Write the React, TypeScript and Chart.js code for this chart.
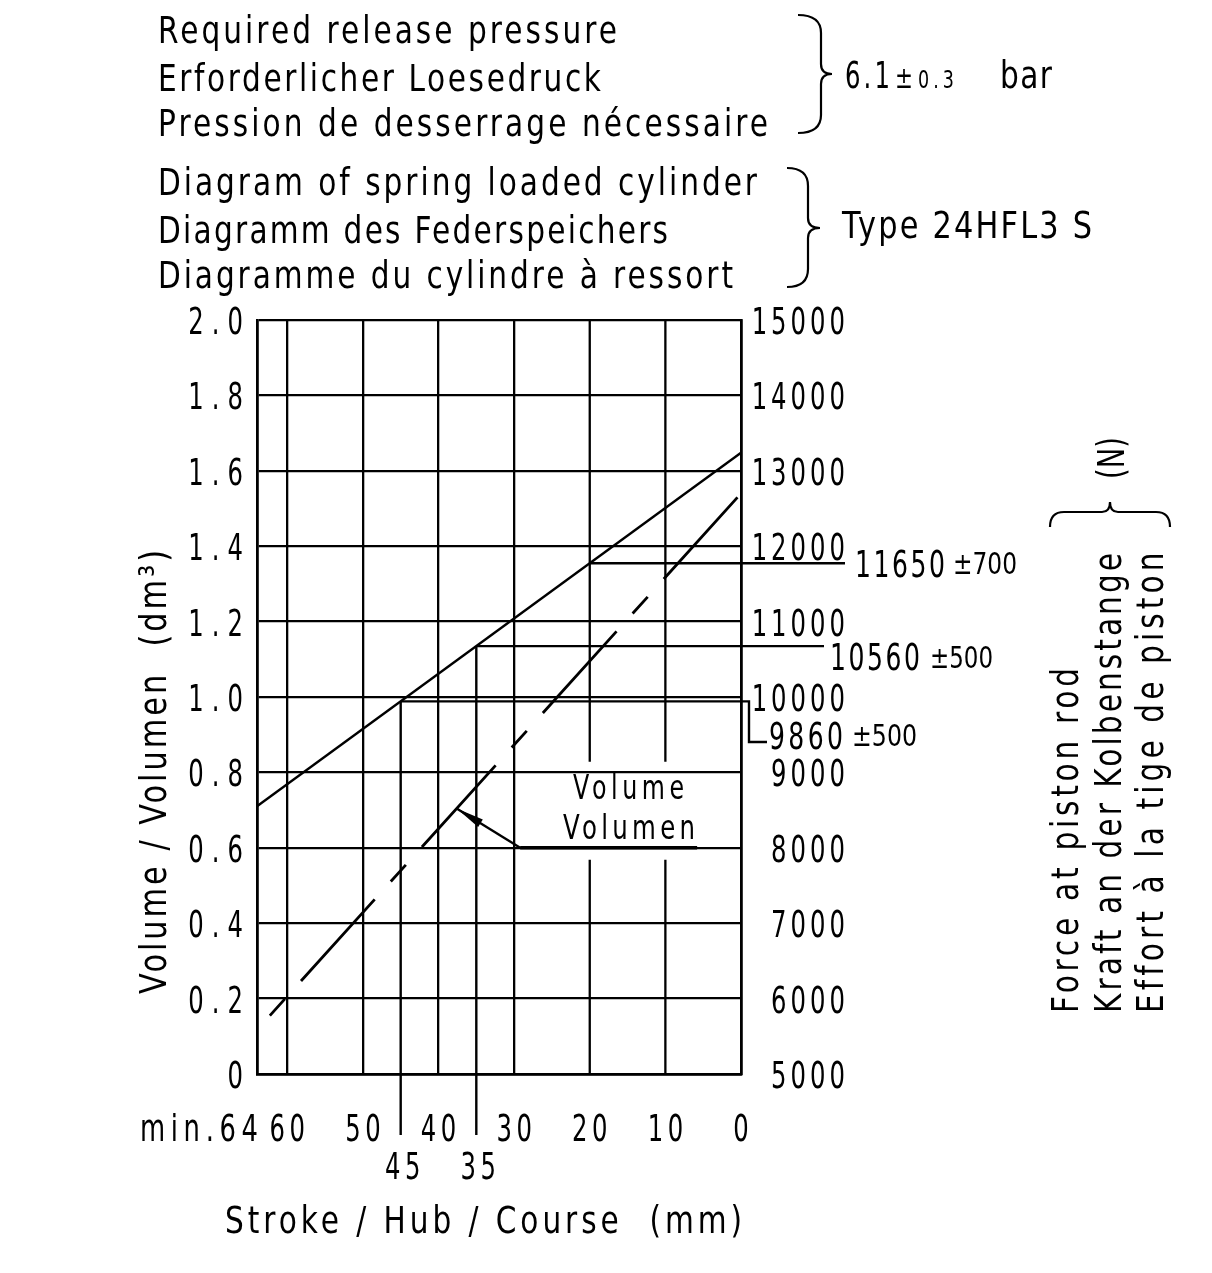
import React, { useEffect, useRef } from 'react';
import { Chart, registerables } from 'chart.js';

Chart.register(...registerables);

const FONT = '"DejaVu Sans", "Liberation Sans", sans-serif';

// ---------- data ----------
const strokeTicks = [0, 10, 20, 30, 40, 50, 60, 64];
const strokeTickLabels = ['0', '10', '20', '30', '40', '50', '60', 'min.64'];
const splitGridStrokes = [10, 20];

const volumeMin = 0;
const volumeMax = 2;
const volumeStep = 0.2;
const forceMin = 5000;
const forceMax = 15000;
const forceStep = 1000;

const forceStroke = [64, 0];
const forceValues = [8550, 13240];
const volumeStroke = [62.3, 0];
const volumeValues = [0.155, 1.54];

const markerStrokes = [20, 35, 45];
const markerLabels = ['11650', '10560', '9860'];
const markerTolerances = ['±700', '±500', '±500'];

const pressureLines = ['Required release pressure', 'Erforderlicher Loesedruck', 'Pression de desserrage nécessaire'];
const pressureValue = ['6.1', '±', '0.3', 'bar'];
const diagramLines = ['Diagram of spring loaded cylinder', 'Diagramm des Federspeichers', 'Diagramme du cylindre à ressort'];
const typeLabel = 'Type 24HFL3 S';
const forceTitleLines = ['Force at piston rod', 'Kraft an der Kolbenstange', 'Effort à la tige de piston'];
const forceUnit = '(N)';
const volumeTitle = 'Volume / Volumen  (dm³)';
const strokeTitle = 'Stroke / Hub / Course  (mm)';
const volumeNote = ['Volume', 'Volumen'];

// ---------- helpers ----------
type TOpt = { size: number; sx?: number; sp?: number; width?: number; align?: 'left' | 'right' | 'center'; rot?: number };

function txt(ctx: CanvasRenderingContext2D, s: string, x: number, y: number, o: TOpt) {
  ctx.save();
  ctx.font = `${o.size}px ${FONT}`;
  const a = ctx as any;
  const hasLS = 'letterSpacing' in a;
  if (hasLS) a.letterSpacing = '0px';
  const w0 = ctx.measureText(s).width;
  const n = Array.from(s).length;
  let sx = o.sx ?? 0.8;
  let sp = o.sp ?? 0;
  if (o.width !== undefined) {
    sp = n > 1 ? (o.width - sx * w0) / (n - 1) : 0;
    if (sp < 0 || n === 1) {
      sx = o.width / w0;
      sp = 0;
    }
  }
  const total = sx * w0 + (n - 1) * sp;
  ctx.translate(x, y);
  if (o.rot) ctx.rotate(o.rot);
  const off = o.align === 'right' ? -total : o.align === 'center' ? -total / 2 : 0;
  ctx.translate(off, 0);
  ctx.scale(sx, 1);
  ctx.fillStyle = '#000';
  ctx.textAlign = 'left';
  ctx.textBaseline = 'alphabetic';
  if (hasLS) {
    a.letterSpacing = `${sp / sx}px`;
    ctx.fillText(s, 0, 0);
  } else {
    let cx = 0;
    for (const ch of Array.from(s)) {
      ctx.fillText(ch, cx, 0);
      cx += ctx.measureText(ch).width + sp / sx;
    }
  }
  ctx.restore();
}

function braceV(ctx: CanvasRenderingContext2D, xEnd: number, xSpine: number, xTip: number, yTop: number, yMid: number, yBot: number, r: number, r2: number) {
  ctx.beginPath();
  ctx.moveTo(xEnd, yTop);
  ctx.quadraticCurveTo(xSpine, yTop, xSpine, yTop + r);
  ctx.lineTo(xSpine, yMid - r2);
  ctx.quadraticCurveTo(xSpine, yMid, xTip, yMid);
  ctx.quadraticCurveTo(xSpine, yMid, xSpine, yMid + r2);
  ctx.lineTo(xSpine, yBot - r);
  ctx.quadraticCurveTo(xSpine, yBot, xEnd, yBot);
  ctx.stroke();
}

function braceH(ctx: CanvasRenderingContext2D, yEnd: number, ySpine: number, yTip: number, xL: number, xMid: number, xR: number, r: number, r2: number) {
  ctx.beginPath();
  ctx.moveTo(xL, yEnd);
  ctx.quadraticCurveTo(xL, ySpine, xL + r, ySpine);
  ctx.lineTo(xMid - r2, ySpine);
  ctx.quadraticCurveTo(xMid, ySpine, xMid, yTip);
  ctx.quadraticCurveTo(xMid, ySpine, xMid + r2, ySpine);
  ctx.lineTo(xR - r, ySpine);
  ctx.quadraticCurveTo(xR, ySpine, xR, yEnd);
  ctx.stroke();
}

function lerpAt(xs: number[], ys: number[], x: number) {
  const t = (x - xs[0]) / (xs[1] - xs[0]);
  return ys[0] + t * (ys[1] - ys[0]);
}

const GRID_W = 2.3;
const BORDER_W = 2.7;
const TICK = { size: 38, sx: 0.64 };

const drawingPlugin = {
  id: 'drawing',
  beforeDatasetsDraw(chart: any) {
    const { ctx, chartArea, scales } = chart;
    const x = scales.x;
    const y = scales.y;
    ctx.save();
    ctx.strokeStyle = '#000';
    ctx.lineWidth = GRID_W;
    const gapTop = y.getPixelForValue(0.828);
    const gapBot = y.getPixelForValue(0.568);
    for (const s of splitGridStrokes) {
      const px = x.getPixelForValue(s);
      ctx.beginPath();
      ctx.moveTo(px, chartArea.top);
      ctx.lineTo(px, gapTop);
      ctx.moveTo(px, gapBot);
      ctx.lineTo(px, chartArea.bottom);
      ctx.stroke();
    }
    ctx.restore();
  },
  afterDatasetsDraw(chart: any) {
    const { ctx, chartArea, scales } = chart;
    const x = scales.x;
    const y = scales.y;
    const y2 = scales.y2;
    ctx.save();
    ctx.strokeStyle = '#000';
    ctx.fillStyle = '#000';
    ctx.lineWidth = 2.4;
    ctx.lineCap = 'butt';

    const leaderEnds = [chartArea.right + 104, chartArea.right + 83, chartArea.right + 8];
    markerStrokes.forEach((s, i) => {
      const px = x.getPixelForValue(s);
      const py = y2.getPixelForValue(lerpAt(forceStroke, forceValues, s));
      ctx.beginPath();
      ctx.moveTo(px, py);
      ctx.lineTo(leaderEnds[i], py);
      if (i === 2) {
        ctx.lineTo(leaderEnds[i], 742);
        ctx.lineTo(chartArea.right + 26, 742);
      }
      ctx.stroke();
      if (i > 0) {
        ctx.beginPath();
        ctx.moveTo(px, py);
        ctx.lineTo(px, chartArea.bottom + 61);
        ctx.stroke();
      }
    });

    // volume note arrow + underline
    const tipS = 37.6;
    const tx = x.getPixelForValue(tipS);
    const ty = y.getPixelForValue(lerpAt(volumeStroke, volumeValues, tipS));
    const bx = x.getPixelForValue(29.2);
    const by = y.getPixelForValue(0.6);
    const ex = x.getPixelForValue(5.8);
    ctx.beginPath();
    ctx.moveTo(bx, by);
    ctx.lineTo(tx, ty);
    ctx.stroke();
    const ang = Math.atan2(ty - by, tx - bx);
    const L = 28;
    const hw = 4.5;
    const cx = tx - L * Math.cos(ang);
    const cy = ty - L * Math.sin(ang);
    ctx.beginPath();
    ctx.moveTo(tx, ty);
    ctx.lineTo(cx + hw * Math.sin(ang), cy - hw * Math.cos(ang));
    ctx.lineTo(cx - hw * Math.sin(ang), cy + hw * Math.cos(ang));
    ctx.closePath();
    ctx.fill();
    ctx.lineWidth = 3.6;
    ctx.beginPath();
    ctx.moveTo(bx, by);
    ctx.lineTo(ex, by);
    ctx.stroke();
    ctx.restore();
  },
  afterDraw(chart: any) {
    const { ctx, chartArea, scales } = chart;
    const x = scales.x;
    const y = scales.y;
    const y2 = scales.y2;

    // axis tick labels (from scale ticks)
    for (const t of y.ticks) {
      const v = t.value;
      const label = Math.abs(v) < 1e-9 ? '0' : v.toFixed(1);
      txt(ctx, label, chartArea.left - 14, y.getPixelForValue(v) + 14, { ...TICK, sp: 8, align: 'right' });
    }
    for (const t of y2.ticks) {
      txt(ctx, String(Math.round(t.value)), chartArea.right + 104, y2.getPixelForValue(t.value) + 14, { ...TICK, sp: 4, align: 'right' });
    }
    x.ticks.forEach((t: any) => {
      const i = strokeTicks.indexOf(t.value);
      const label = strokeTickLabels[i];
      const px = x.getPixelForValue(t.value);
      if (t.value === 64) {
        txt(ctx, label, px + 1, chartArea.bottom + 67, { size: 38, sx: 0.68, width: 118, align: 'right' });
      } else {
        txt(ctx, label, px, chartArea.bottom + 67, { ...TICK, sp: 4.5, align: 'center' });
      }
    });
    markerStrokes.forEach((s, i) => {
      if (i === 0) return;
      txt(ctx, String(s), x.getPixelForValue(s) + 2, chartArea.bottom + 105, { ...TICK, sp: 4.5, align: 'center' });
    });

    // marker value labels
    txt(ctx, markerLabels[0], 855, 577, { size: 38, sx: 0.66, width: 90 });
    txt(ctx, markerTolerances[0], 953, 574, { size: 30, width: 64 });
    txt(ctx, markerLabels[1], 830, 670, { size: 38, sx: 0.66, width: 90 });
    txt(ctx, markerTolerances[1], 930, 668, { size: 30, width: 63 });
    txt(ctx, markerLabels[2], 769, 749, { size: 38, sx: 0.66, width: 74 });
    txt(ctx, markerTolerances[2], 852, 746, { size: 30, width: 65 });

    // volume note
    txt(ctx, volumeNote[0], 573, 799, { size: 33, sx: 0.72, width: 111 });
    txt(ctx, volumeNote[1], 563, 839, { size: 34, sx: 0.72, width: 132 });

    // axis titles
    txt(ctx, strokeTitle, 225, 1233, { size: 37, width: 517 });
    txt(ctx, volumeTitle, 166, 994, { size: 38, width: 444, rot: -Math.PI / 2 });
    const fx = [1078, 1121, 1163];
    const fw = [345, 460, 460];
    forceTitleLines.forEach((s, i) => txt(ctx, s, fx[i], 1013, { size: 37, width: fw[i], rot: -Math.PI / 2 }));
    txt(ctx, forceUnit, 1124, 479, { size: 37, width: 42, rot: -Math.PI / 2 });

    // header blocks
    const pb = [43, 91, 136];
    const pw = [459, 443, 610];
    pressureLines.forEach((s, i) => txt(ctx, s, 158, pb[i], { size: 37, width: pw[i] }));
    const db = [195, 243, 288];
    const dw = [599, 510, 575];
    diagramLines.forEach((s, i) => txt(ctx, s, 158, db[i], { size: 37, width: dw[i] }));

    txt(ctx, pressureValue[0], 845, 88, { size: 37, sx: 0.66, width: 45 });
    txt(ctx, pressureValue[1], 895, 88, { size: 30, width: 18 });
    txt(ctx, pressureValue[2], 918, 88, { size: 25, sx: 0.7, width: 36 });
    txt(ctx, pressureValue[3], 1000, 88, { size: 37, width: 52 });
    txt(ctx, typeLabel, 842, 238, { size: 38, width: 250 });

    ctx.save();
    ctx.strokeStyle = '#000';
    ctx.lineWidth = 2.2;
    braceV(ctx, 798, 821, 832, 15, 74, 133, 18, 10);
    braceV(ctx, 787, 808, 820, 168, 228, 287, 18, 10);
    braceH(ctx, 527, 512, 502, 1050, 1110, 1170, 14, 8);
    ctx.restore();
  },
};

export default function App() {
  const ref = useRef<HTMLCanvasElement>(null);
  useEffect(() => {
    const canvas = ref.current;
    if (!canvas) return;
    const chart = new Chart(canvas, {
      type: 'line',
      data: {
        datasets: [
          {
            label: 'Force',
            data: forceStroke.map((s, i) => ({ x: s, y: forceValues[i] })),
            yAxisID: 'y2',
            borderColor: '#000',
            borderWidth: 2.4,
            pointRadius: 0,
            tension: 0,
            fill: false,
          },
          {
            label: 'Volume',
            data: volumeStroke.map((s, i) => ({ x: s, y: volumeValues[i] })),
            yAxisID: 'y',
            borderColor: '#000',
            borderWidth: 2.8,
            borderDash: [22.5, 24, 110, 24],
            pointRadius: 0,
            tension: 0,
            fill: false,
          },
        ],
      },
      options: {
        animation: false,
        responsive: false,
        maintainAspectRatio: false,
        layout: { padding: { top: 320, left: 0, right: 371, bottom: 139 } },
        plugins: { legend: { display: false }, tooltip: { enabled: false }, title: { display: false } },
        scales: {
          x: {
            type: 'linear',
            min: 0,
            max: 64,
            reverse: true,
            position: 'bottom',
            afterBuildTicks: (scale: any) => {
              scale.ticks = strokeTicks.map((v) => ({ value: v }));
            },
            afterFit: (scale: any) => {
              scale.height = 60;
            },
            ticks: { display: false },
            grid: {
              drawTicks: false,
              lineWidth: GRID_W,
              color: (c: any) => (c.tick && splitGridStrokes.includes(c.tick.value) ? 'rgba(0,0,0,0)' : '#000'),
            },
            border: { display: true, color: '#000', width: BORDER_W },
          },
          y: {
            type: 'linear',
            min: volumeMin,
            max: volumeMax,
            position: 'left',
            afterFit: (scale: any) => {
              scale.width = 257;
            },
            ticks: { display: false, stepSize: volumeStep },
            grid: { drawTicks: false, lineWidth: GRID_W, color: '#000' },
            border: { display: true, color: '#000', width: BORDER_W },
          },
          y2: {
            type: 'linear',
            min: forceMin,
            max: forceMax,
            position: 'right',
            afterFit: (scale: any) => {
              scale.width = 100;
            },
            ticks: { display: false, stepSize: forceStep },
            grid: { display: false, drawTicks: false },
            border: { display: true, color: '#000', width: BORDER_W },
          },
        },
      },
      plugins: [drawingPlugin],
    } as any);
    return () => chart.destroy();
  }, []);
  return (
    <div style={{ position: 'fixed', left: 0, top: 0, width: 1212, height: 1273, background: '#fff', overflow: 'hidden' }}>
      <canvas ref={ref} width={1212} height={1273} style={{ display: 'block' }} />
    </div>
  );
}
